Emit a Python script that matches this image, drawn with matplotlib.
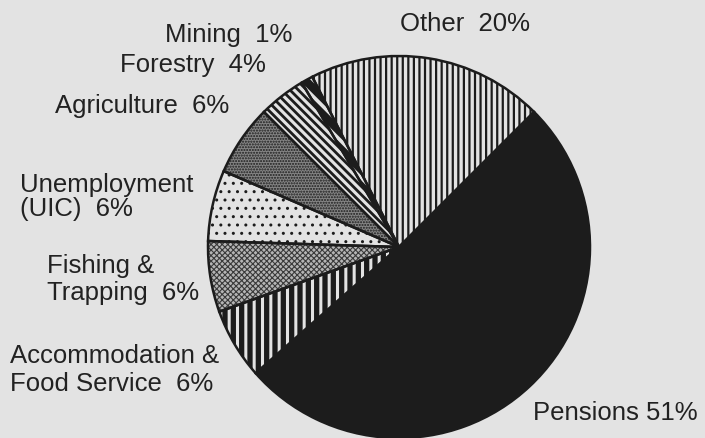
import matplotlib
matplotlib.use("Agg")
import matplotlib.pyplot as plt

# ---- data ----
categories = ["Other", "Mining", "Forestry", "Agriculture",
              "Unemployment (UIC)", "Fishing & Trapping",
              "Accommodation & Food Service", "Pensions"]
shares = [20, 1, 4, 6, 6, 6, 6, 51]

# label lines per category (text only)
label_lines = [
    ["Other  20%"],
    ["Mining  1%"],
    ["Forestry  4%"],
    ["Agriculture  6%"],
    ["Unemployment", "(UIC)  6%"],
    ["Fishing &", "Trapping  6%"],
    ["Accommodation &", "Food Service  6%"],
    ["Pensions 51%"],
]

# ---- style ----
W, H = 705, 438
paper = "#e3e3e3"
ink = "#1c1c1c"

styles = [
    # face, hatch, hatch colour, hatch lw
    dict(face=paper, hatch="|||", hc=ink, hlw=1.6),              # Other
    dict(face=ink, hatch="\\\\", hc=paper, hlw=2.6),              # Mining
    dict(face=paper, hatch="\\\\\\\\", hc=ink, hlw=2.0),          # Forestry
    dict(face="#858585", hatch="......", hc=ink, hlw=1.0),        # Agriculture
    dict(face=paper, hatch="..", hc=ink, hlw=1.0),                # Unemployment
    dict(face="#b5b5b5", hatch="xxxxxx", hc="#3a3a3a", hlw=0.8),  # Fishing
    dict(face=ink, hatch="||", hc=paper, hlw=2.2),                # Accommodation
    dict(face=ink, hatch=None, hc=ink, hlw=1.0),                  # Pensions
]

fig = plt.figure(figsize=(W / 100, H / 100), dpi=100)
fig.patch.set_facecolor(paper)
ax = fig.add_axes([0, 0, 1, 1])
ax.set_facecolor(paper)

cx, cy, r = 399, H - 247, 191

wedges, _ = ax.pie(shares, startangle=45, counterclock=True,
                   center=(cx, cy), radius=r,
                   wedgeprops=dict(linewidth=0))
for w, st in zip(wedges, styles):
    w.set_facecolor(st["face"])
    w.set_edgecolor(st["hc"])
    w.set_linewidth(0)
    if st["hatch"]:
        w.set_hatch(st["hatch"])
        if hasattr(w, "set_hatch_linewidth"):
            w.set_hatch_linewidth(st["hlw"])

# outlines
ax.pie(shares, startangle=45, counterclock=True, center=(cx, cy), radius=r,
       wedgeprops=dict(fill=False, edgecolor=ink, linewidth=1.8))

ax.set_xlim(0, W)
ax.set_ylim(0, H)
ax.set_aspect("auto")
ax.axis("off")

# label placement (pixel coords: left x, baseline y from top)
label_pos = [
    [(400, 31)],
    [(165, 42)],
    [(120, 72)],
    [(55, 113)],
    [(20, 192), (20, 216)],
    [(47, 273), (47, 300)],
    [(10, 363), (10, 391)],
    [(533, 420)],
]

for lines, poss in zip(label_lines, label_pos):
    for s, (x, yb) in zip(lines, poss):
        ax.text(x, H - yb, s, ha="left", va="baseline", fontsize=18.5,
                family=["Liberation Sans", "DejaVu Sans"], color="#222222")

fig.savefig("out.png", dpi=100, facecolor=paper)
